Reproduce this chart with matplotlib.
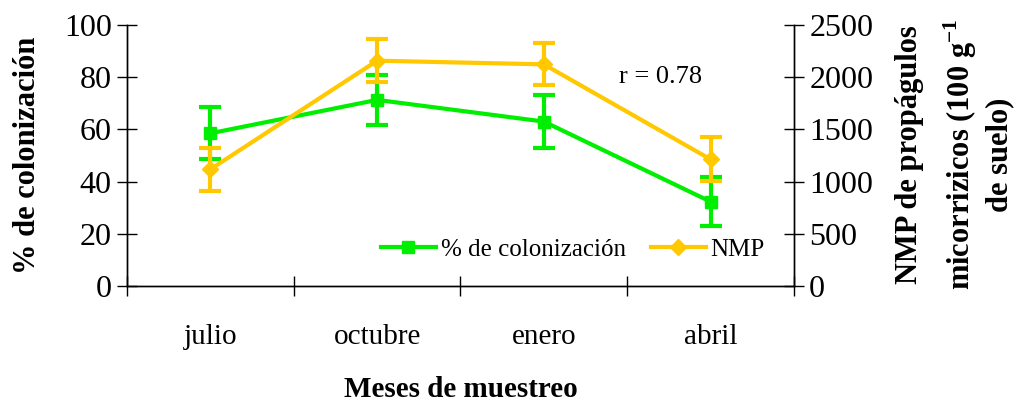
import numpy as np
import matplotlib
matplotlib.use("Agg")
import matplotlib.pyplot as plt
from matplotlib.lines import Line2D

meses = ["julio", "octubre", "enero", "abril"]
colonizacion = [58.5, 71.3, 63.0, 32.3]
err_colonizacion = [10.0, 9.5, 10.0, 9.5]
nmp = [1118, 2158, 2123, 1213]
err_nmp = [205, 205, 200, 210]

plt.rcParams["font.family"] = ["Liberation Serif", "DejaVu Serif"]
plt.rcParams["mathtext.fontset"] = "custom"
plt.rcParams["mathtext.bf"] = "Liberation Serif:bold"
plt.rcParams["mathtext.rm"] = "Liberation Serif"

verde = "#00ee00"
amarillo = "#ffc800"

fig = plt.figure(figsize=(10.17, 4.05), dpi=100)
ax = fig.add_axes([0.1249, 0.2938, 0.6558, 0.6445])
ax2 = ax.twinx()

x = np.arange(len(meses))

ax.errorbar(x, colonizacion, yerr=err_colonizacion, color=verde,
            marker="s", markersize=9, linewidth=3, elinewidth=3,
            capsize=8, capthick=3, zorder=3)
ax2.errorbar(x, nmp, yerr=err_nmp, color=amarillo,
             marker="D", markersize=8, linewidth=3, elinewidth=3,
             capsize=8, capthick=3, zorder=3)

ax.set_xlim(-0.5, 3.5)
ax.set_ylim(0, 100)
ax2.set_ylim(0, 2500)

ax.set_yticks(np.arange(0, 101, 20))
ax2.set_yticks(np.arange(0, 2501, 500))

# ticks del eje x en los limites de cada mes, etiquetas al centro
ax.set_xticks(np.arange(-0.5, 3.6, 1))
ax.set_xticklabels([])
ax.set_xticks(x, minor=True)
ax.set_xticklabels(meses, minor=True, fontsize=21)
ax.tick_params(axis="x", which="major", direction="inout", length=14, width=1)
ax.tick_params(axis="x", which="minor", length=0, pad=27)

ax.tick_params(axis="y", direction="inout", length=14, width=1, labelsize=23, pad=4)
ax2.tick_params(axis="y", direction="inout", length=14, width=1, labelsize=23, pad=4)

for a in (ax, ax2):
    a.spines["top"].set_visible(False)
    for s in a.spines.values():
        s.set_linewidth(1)

ax.set_ylabel("% de colonización", fontsize=22, fontweight="bold", labelpad=8)
ax.yaxis.set_label_coords(-0.127, 0.5)
ax.set_xlabel("Meses de muestreo", fontsize=21, fontweight="bold", labelpad=19)

# titulo del eje derecho en tres lineas
lineas_der = ["NMP de propágulos",
              "micorrizicos (100 g$^{\\mathbf{-1}}$",
              "de suelo)"]
x_lineas = [0.894, 0.944, 0.983]
for xl, txt in zip(x_lineas, lineas_der):
    fig.text(xl, 0.618, txt, fontsize=22, fontweight="bold", rotation=90,
             ha="center", va="center")

ax.text(2.45, 80, "r = 0.78", fontsize=19, ha="left", va="center",
        bbox=dict(facecolor="white", edgecolor="none", pad=1), zorder=2)

h1 = Line2D([], [], color=verde, marker="s", markersize=9, linewidth=3)
h2 = Line2D([], [], color=amarillo, marker="D", markersize=8, linewidth=3)
ax2.legend([h1, h2], ["% de colonización", "NMP"], loc="lower right",
           bbox_to_anchor=(0.99, 0.01), ncol=2, frameon=False, fontsize=18,
           handlelength=2.2, handletextpad=0.2, columnspacing=1.0)
ax2.set_zorder(ax.get_zorder() + 1)
ax2.patch.set_visible(False)

fig.savefig("out.png", dpi=100)
